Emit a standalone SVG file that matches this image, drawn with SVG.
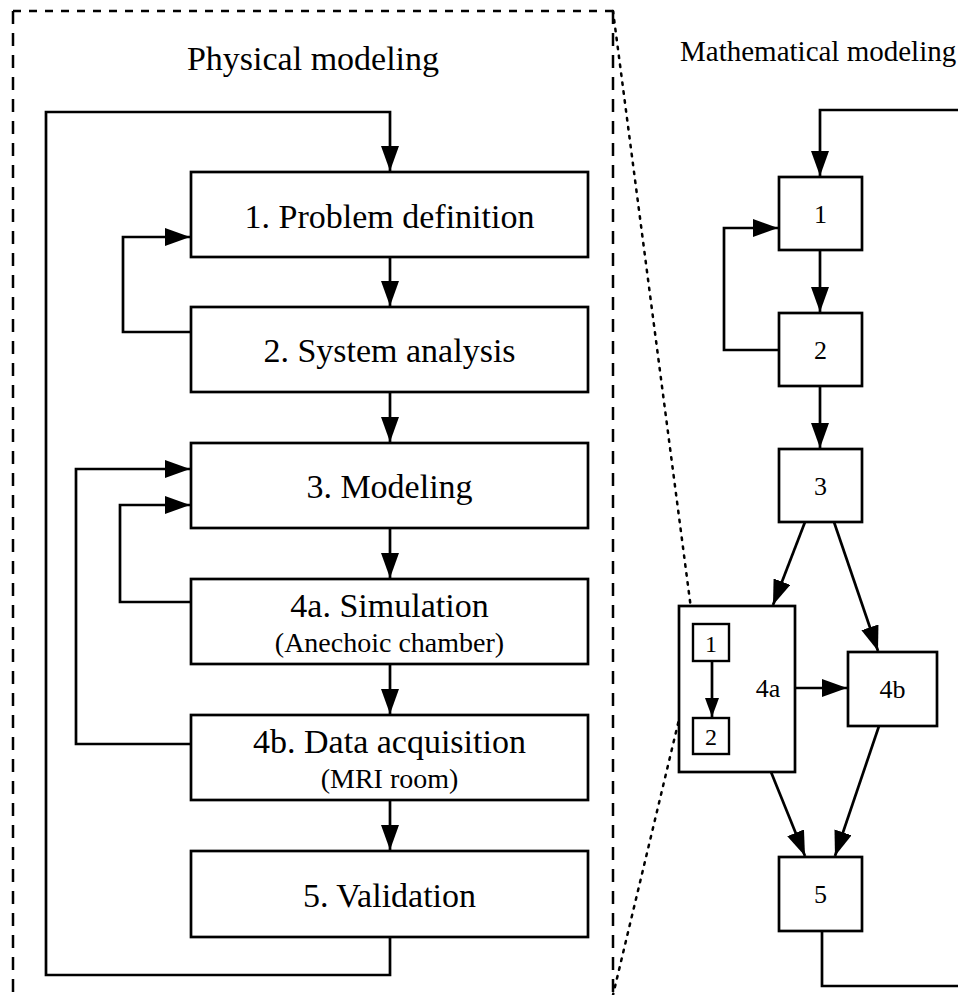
<svg xmlns="http://www.w3.org/2000/svg" width="958" height="995" viewBox="0 0 958 995">
<style>
text{font-family:"Liberation Serif","Times New Roman",serif;fill:#000;text-anchor:middle}
.box{fill:#fff;stroke:#000;stroke-width:2.7}
.sbox{fill:#fff;stroke:#000;stroke-width:2.4}
.big{font-size:34px}
.sub{font-size:28px}
.lbl{font-size:26px}
.sl{font-size:24px}
.c{fill:none;stroke:#000;stroke-width:2.7}
.dash{fill:none;stroke:#000;stroke-width:2.5}
.dot{fill:none;stroke:#000;stroke-width:2.5;stroke-dasharray:2.5 6.5;stroke-linecap:round}
</style>
<defs>
<marker id="ah" markerUnits="userSpaceOnUse" markerWidth="26" markerHeight="18" refX="25" refY="9" orient="auto"><path d="M0,0 L25,9 L0,18 z" fill="#000"/></marker>
<marker id="ahs" markerUnits="userSpaceOnUse" markerWidth="19" markerHeight="14" refX="19" refY="7" orient="auto"><path d="M0,0 L19,7 L0,14 z" fill="#000"/></marker>
</defs>
<g id="frame">
<path class="dash" d="M13,11 H613" stroke-dasharray="8 8"/>
<path class="dash" d="M13,11 V995" stroke-dasharray="13 9"/>
<path class="dash" d="M613,11 V995" stroke-dasharray="13 9"/>
<path class="dot" d="M613,11 L693,624"/>
<path class="dot" d="M693,661 L613,995"/>
<text x="313" y="70" class="big">Physical modeling</text>
<text x="680" y="61" style="font-size:29px;text-anchor:start">Mathematical modeling</text>
</g>
<g id="connectors">
<path class="c" d="M390,937 V975 H46 V112 H390 V171" marker-end="url(#ah)"/>
<path class="c" d="M390,257 V306" marker-end="url(#ah)"/>
<path class="c" d="M191,332 H123 V237 H190" marker-end="url(#ah)"/>
<path class="c" d="M390,392 V442" marker-end="url(#ah)"/>
<path class="c" d="M390,528 V578" marker-end="url(#ah)"/>
<path class="c" d="M191,602 H120 V505 H190" marker-end="url(#ah)"/>
<path class="c" d="M390,664 V714" marker-end="url(#ah)"/>
<path class="c" d="M191,744 H76 V469 H190" marker-end="url(#ah)"/>
<path class="c" d="M390,800 V850" marker-end="url(#ah)"/>
<path class="c" d="M962,110 H820 V176" marker-end="url(#ah)"/>
<path class="c" d="M820,250 V312" marker-end="url(#ah)"/>
<path class="c" d="M779,350 H724 V228 H778" marker-end="url(#ah)"/>
<path class="c" d="M820,386 V448" marker-end="url(#ah)"/>
<path class="c" d="M805,522 L773,605" marker-end="url(#ah)"/>
<path class="c" d="M834,522 L878,651" marker-end="url(#ah)"/>
<path class="c" d="M795,688 H847" marker-end="url(#ah)"/>
<path class="c" d="M771,772 L805,856" marker-end="url(#ah)"/>
<path class="c" d="M879,726 L835,856" marker-end="url(#ah)"/>
<path class="c" d="M822,931 V986 H962"/>
</g>
<g id="p1"><rect class="box" x="191" y="172" width="397" height="85"/><text x="389.5" y="228" class="big">1. Problem definition</text></g>
<g id="p2"><rect class="box" x="191" y="307" width="397" height="85"/><text x="389.5" y="362" class="big">2. System analysis</text></g>
<g id="p3"><rect class="box" x="191" y="443" width="397" height="85"/><text x="389.5" y="498" class="big">3. Modeling</text></g>
<g id="p4a"><rect class="box" x="191" y="579" width="397" height="85"/><text x="389.5" y="617" class="big">4a. Simulation</text><text x="389.5" y="652" class="sub">(Anechoic chamber)</text></g>
<g id="p4b"><rect class="box" x="191" y="715" width="397" height="85"/><text x="389.5" y="753" class="big">4b. Data acquisition</text><text x="389.5" y="788" class="sub">(MRI room)</text></g>
<g id="p5"><rect class="box" x="191" y="851" width="397" height="86"/><text x="389.5" y="907" class="big">5. Validation</text></g>
<g id="m1"><rect class="box" x="779" y="177" width="83" height="73"/><text x="820.5" y="223" class="lbl">1</text></g>
<g id="m2"><rect class="box" x="779" y="313" width="83" height="73"/><text x="820.5" y="359" class="lbl">2</text></g>
<g id="m3"><rect class="box" x="779" y="449" width="83" height="73"/><text x="820.5" y="495" class="lbl">3</text></g>
<g id="m4a"><rect class="box" x="679" y="606" width="116" height="166"/><text x="768" y="697" class="lbl">4a</text>
<g id="m4a1"><rect class="sbox" x="693" y="624" width="36" height="37"/><text x="711" y="652" class="sl">1</text></g>
<g id="m4a2"><rect class="sbox" x="693" y="718" width="36" height="36"/><text x="711" y="745" class="sl">2</text></g>
<path class="c" d="M712,661 V717" marker-end="url(#ahs)"/>
</g>
<g id="m4b"><rect class="box" x="848" y="652" width="89" height="74"/><text x="892.5" y="698" class="lbl">4b</text></g>
<g id="m5"><rect class="box" x="779" y="857" width="83" height="74"/><text x="820.5" y="903" class="lbl">5</text></g>
</svg>
